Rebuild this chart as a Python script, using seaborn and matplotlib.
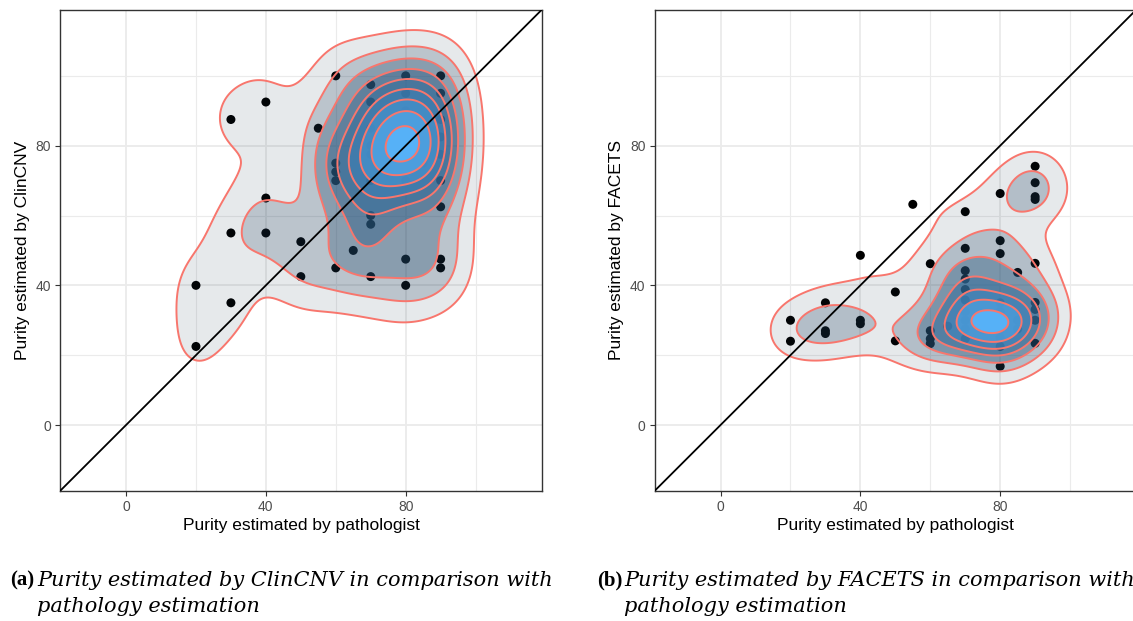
import numpy as np
import pandas as pd
import matplotlib
matplotlib.use("Agg")
import matplotlib.pyplot as plt
import seaborn as sns
from matplotlib.colors import LinearSegmentedColormap

# --- data ---
# visible points, then points hidden under the opaque inner density bands (estimated)
path_a = [20, 20, 30, 30, 30, 40, 40, 40, 50, 50, 55, 60, 60, 60, 60, 60, 65,
          70, 70, 70, 70, 70, 70, 80, 80, 80, 80, 90, 90, 90, 90, 90, 90, 90,
          80, 80, 80, 80, 80, 70, 70, 70, 90, 90, 85, 85, 75, 75]
clincnv = [40, 22.5, 87.5, 55, 35, 92.5, 65, 55, 52.5, 42.5, 85, 100, 75, 72.5, 70, 45, 50,
           97.5, 92.5, 80, 60, 57.5, 42.5, 100, 95, 47.5, 40, 100, 95, 87.5, 70, 62.5, 47.5, 45,
           70, 75, 80, 85, 90, 70, 77.5, 85, 77.5, 82.5, 75, 82.5, 72.5, 80]

path_b = [20, 20, 30, 30, 30, 40, 40, 40, 50, 50, 55, 60, 60, 60, 60, 65,
          70, 70, 70, 70, 70, 70, 70, 80, 80, 80, 80, 85,
          90, 90, 90, 90, 90, 90, 90, 90, 90,
          80, 80, 80, 80, 80, 80, 70, 70, 70, 75, 75, 85, 85]
facets = [30, 24, 35, 27, 26.2, 48.6, 30, 29, 38.1, 24.1, 63.2, 46.2, 27, 24.7, 23.3, 28.3,
          61.1, 50.6, 44.2, 41.8, 38.8, 35.8, 24.7, 66.3, 52.8, 49.1, 16.8, 43.7,
          74.1, 69.4, 65.4, 64.6, 46.3, 35.1, 33.1, 30, 23.4,
          22.5, 25, 27.5, 30, 32.5, 35, 27.5, 30, 32.5, 27.5, 30, 27.5, 30]

n_levels = [9, 7]          # contour levels drawn in each panel
major_ticks = [0, 40, 80]
minor_ticks = [20, 60, 100]
lims = (-18.9, 119)

captions = [("(a)", ["Purity estimated by ClinCNV in comparison with", "pathology estimation"]),
            ("(b)", ["Purity estimated by FACETS in comparison with", "pathology estimation"])]
y_titles = ["Purity estimated by ClinCNV", "Purity estimated by FACETS"]
x_title = "Purity estimated by pathologist"

df_a = pd.DataFrame({"pathologist": path_a, "estimate": clincnv})
df_b = pd.DataFrame({"pathologist": path_b, "estimate": facets})

plt.rcParams["font.family"] = ["Liberation Sans", "DejaVu Sans"]
fill_cmap = LinearSegmentedColormap.from_list("ggblue", ["#132B43", "#56B1F7"])


def bw_nrd(v):
    v = np.asarray(v, float)
    q1, q3 = np.quantile(v, [0.25, 0.75])
    return 4 * 1.06 * min(np.std(v, ddof=1), (q3 - q1) / 1.34) * len(v) ** (-0.2)


def kde2d(x, y, gx, gy):
    # same as MASS::kde2d with bandwidth.nrd (what stat_density_2d uses)
    x = np.asarray(x, float); y = np.asarray(y, float)
    hx, hy = bw_nrd(x) / 4, bw_nrd(y) / 4
    px = np.exp(-0.5 * ((gx[:, None] - x[None, :]) / hx) ** 2) / (hx * np.sqrt(2 * np.pi))
    py = np.exp(-0.5 * ((gy[:, None] - y[None, :]) / hy) ** 2) / (hy * np.sqrt(2 * np.pi))
    return py @ px.T / len(x)


def density_panel(ax, df, n):
    g = np.linspace(lims[0], lims[1], 260)
    X, Y = np.meshgrid(g, g)
    Z = kde2d(df["pathologist"], df["estimate"], g, g)
    step = Z.max() / (n + 0.5)
    levels = step * np.arange(1, n + 1)
    t = (levels - levels.min()) / (levels.max() - levels.min())
    # stacked polygons like geom="polygon" with fill/alpha mapped to level
    for lev, tt in zip(levels, t):
        ax.contourf(X, Y, Z, levels=[lev, Z.max() * 2], colors=[fill_cmap(tt)],
                    alpha=0.1 + 0.9 * tt, zorder=3, antialiased=True)
    ax.contour(X, Y, Z, levels=levels, colors="#F8766D", linewidths=1.4, zorder=4)


fig = plt.figure(figsize=(11.33, 6.21), dpi=100)
W, H = 1133, 621
axes = [fig.add_axes([60 / W, 1 - 491 / H, 482 / W, 481.5 / H]),
        fig.add_axes([654.5 / W, 1 - 491 / H, 482 / W, 481.5 / H])]

for ax, df, ytitle, n in zip(axes, [df_a, df_b], y_titles, n_levels):
    ax.set_facecolor("white")
    sns.scatterplot(data=df, x="pathologist", y="estimate", ax=ax, color="black",
                    s=42, edgecolor="none", zorder=2, legend=False)
    density_panel(ax, df, n)
    ax.axline((0, 0), slope=1, color="black", linewidth=1.3, zorder=5)
    ax.set_xlim(lims)
    ax.set_ylim(lims)
    ax.set_xticks(major_ticks)
    ax.set_yticks(major_ticks)
    ax.set_xticks(minor_ticks, minor=True)
    ax.set_yticks(minor_ticks, minor=True)
    ax.grid(which="major", color="#EBEBEB", linewidth=1.3, zorder=0)
    ax.grid(which="minor", color="#EBEBEB", linewidth=0.8, zorder=0)
    ax.set_axisbelow(True)
    ax.tick_params(which="major", length=3.5, width=0.8, color="#333333",
                   labelcolor="#4D4D4D", labelsize=10, pad=3)
    ax.tick_params(which="minor", length=0)
    for sp in ax.spines.values():
        sp.set_color("#333333")
        sp.set_linewidth(1.0)
    ax.set_xlabel(x_title, fontsize=12.5, labelpad=3)
    ax.set_ylabel(ytitle, fontsize=12.5, labelpad=4)

# captions
cap_font = {"family": "DejaVu Serif", "size": 15}
for (lab, lines), x0 in zip(captions, [10, 597]):
    fig.text(x0 / W, 1 - 580 / H, lab, family="Liberation Serif", size=15,
             fontweight="bold", va="center")
    for i, line in enumerate(lines):
        fig.text((x0 + 27) / W, 1 - (580 + 26 * i) / H, line, fontdict=cap_font,
                 style="italic", va="center")

fig.savefig("out.png", dpi=100)
